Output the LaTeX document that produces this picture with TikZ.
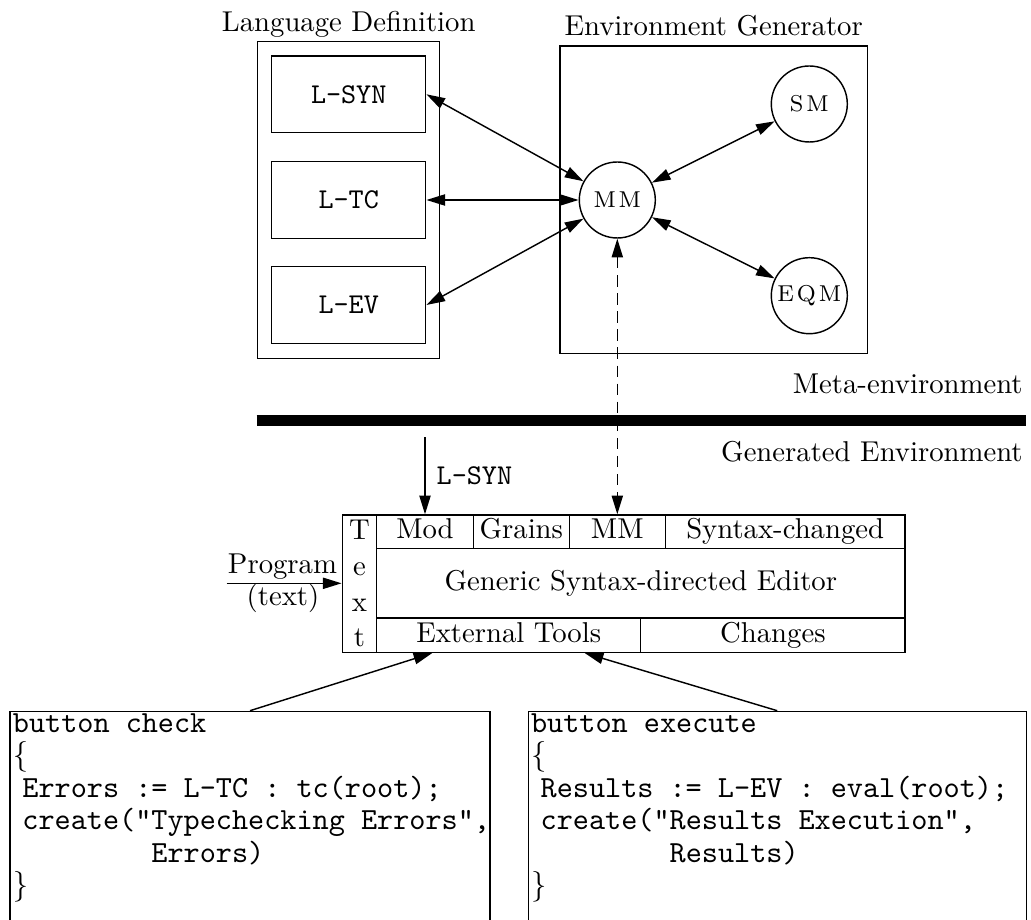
\documentclass[tikz,border=0pt]{standalone}
\usetikzlibrary{arrows.meta,calc}
\newcommand\pxu{0.3484pt}
\newcommand\ind{\hspace*{3.33pt}}
\newcommand\indb{\hspace*{3.33pt}~~~~~~~~}
\newcommand\lbr{{\rmfamily\{}}
\newcommand\rbr{{\rmfamily\}}}
\begin{document}
\begin{tikzpicture}[x=0.3484pt,y=-0.3484pt,line width=0.5pt,
  tipa/.style={-{Triangle[length=6.5pt,width=3.9pt]}},
  tipb/.style={{Triangle[length=6.5pt,width=3.9pt]}-{Triangle[length=6.5pt,width=3.9pt]}},
  dashline/.style={dash pattern=on 4pt off 2.3pt},
  sz/.style 2 args={minimum width={#1*\pxu},minimum height={#2*\pxu}},
  frame/.style={draw,inner sep=0pt},
  lbl/.style={inner sep=0pt},
  langbox/.style={frame,sz={154}{76.7},font=\ttfamily},
  circ/.style={draw,circle,inner sep=0pt,minimum size={76*\pxu},font=\footnotesize},
  cell/.style={frame,text height=6.9pt,text depth=1.9pt},
  code/.style={align=left,inner xsep=1pt,inner ysep=0pt,anchor=north west,yshift=-0.8pt,
    font={\fontsize{10.7}{11.3}\selectfont\ttfamily}}]
\useasboundingbox (0,0) rectangle (1031,920);
% Language definition
\node[frame,sz={182}{316.6}] (langdef) at (348.7,200) {};
\node[lbl,anchor=base] (langtitle) at (348.7,31.7) {Language Definition};
\node[langbox] (lsyn) at (348.7,94.3) {L-SYN};
\node[langbox] (ltc) at (348.7,200) {L-TC};
\node[langbox] (lev) at (348.7,305) {L-EV};
% Environment generator
\node[frame,sz={307.3}{307.3}] (envgen) at (713.65,199.65) {};
\node[lbl,anchor=base] (envtitle) at (713.7,36) {Environment Generator};
\node[circ] (mm) at (617.3,200) {M\kern1pt M};
\node[circ] (sm) at (809.3,104) {S\kern1pt M};
\node[circ] (eqm) at (809.3,295.7) {E\kern1pt Q\kern1pt M};
\draw[tipb] (lsyn.east) -- (mm);
\draw[tipb] (ltc.east) -- (mm);
\draw[tipb] (lev.east) -- (mm);
\draw[tipb] (mm) -- (sm);
\draw[tipb] (mm) -- (eqm);
% separator
\node[lbl,anchor=base east] (meta) at (1023.3,394) {Meta-environment};
\coordinate (barl) at (256.7,420.5);
\coordinate (barr) at (1025.7,420.5);
\draw[line width=3.7pt] (barl) -- (barr);
\node[lbl,anchor=base east] (gen) at (1023.3,461.7) {Generated Environment};
% editor table
\node[frame,sz={34.4}{137.3},align=center] (textcol) at (359.5,583.65) {T\\[0.4pt]e\\[0.4pt]x\\[0.4pt]t};
\node[cell,sz={96.6}{33.5}] (mod) at (425,531.75) {Mod};
\node[cell,sz={96}{33.5}] (grains) at (521.3,531.75) {Grains};
\node[cell,sz={96}{33.5}] (mmcell) at (617.3,531.75) {MM};
\node[cell,sz={239.7}{33.5}] (synch) at (785.15,531.75) {Syntax-changed};
\node[cell,sz={528.3}{69.3}] (editor) at (640.85,583.15) {Generic Syntax-directed Editor};
\node[cell,sz={264}{34.5}] (ext) at (508.7,635.05) {External Tools};
\node[cell,sz={264.3}{34.5}] (changes) at (772.85,635.05) {Changes};
% inputs
\coordinate (lsynin) at (425,437.3);
\draw[tipa] (lsynin) -- (mod.north);
\node[lbl,anchor=base west,font=\ttfamily] (lsynlab) at (436,485) {L-SYN};
\draw[tipb,dashline] (mm.south) -- (mmcell.north);
\coordinate (progin) at (226.7,583.3);
\draw[tipa] (progin) -- (progin -| textcol.west);
\node[lbl,anchor=base] (proglab) at (282.5,573.3) {Program};
\node[lbl,anchor=base] (textlab) at (283,605) {(text)};
% code boxes
\node[frame,sz={480}{230},anchor=north west] (lcode) at (9.3,710.7) {};
\node[frame,sz={498}{230},anchor=north west] (rcode) at (527.5,710.7) {};
\node[code] (ltext) at (lcode.north west) {button check\\\lbr\\\ind Errors := L-TC : tc(root);\\\ind create("Typechecking Errors",\\\indb Errors)\\\rbr};
\node[code] (rtext) at (rcode.north west) {button execute\\\lbr\\\ind Results := L-EV : eval(root);\\\ind create("Results Execution",\\\indb Results)\\\rbr};
\draw[tipa] (lcode.north) -- ($(ext.south west)+(56.3,0)$);
\draw[tipa] (rcode.north) -- ($(ext.south east)+(-56.7,0)$);
\end{tikzpicture}
\end{document}
